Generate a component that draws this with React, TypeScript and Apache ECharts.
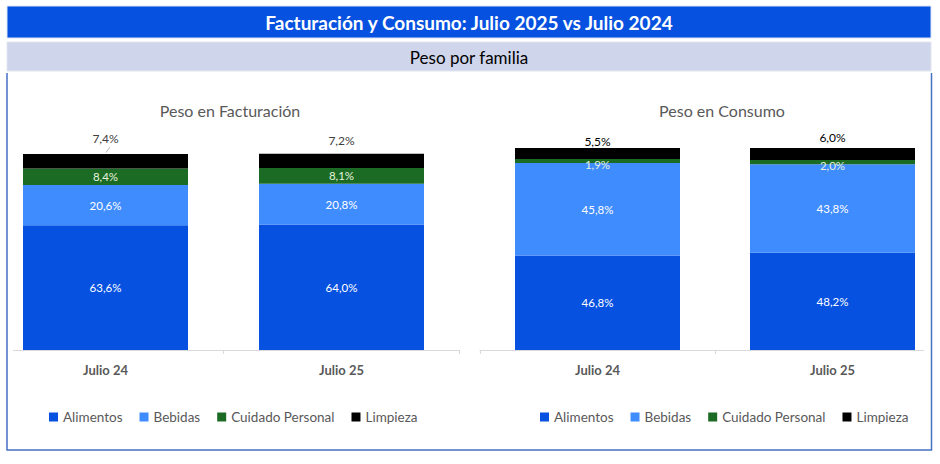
import React, { useEffect, useRef } from "react";
import * as echarts from "echarts";

const categories = ["Julio 24", "Julio 25"];
const familias = ["Alimentos", "Bebidas", "Cuidado Personal", "Limpieza"];

// Peso en Facturación (%)
const factAlimentos = [63.6, 64.0];
const factBebidas = [20.6, 20.8];
const factCuidado = [8.4, 8.1];
const factLimpieza = [7.4, 7.2];

// Peso en Consumo (%)
const consAlimentos = [46.8, 48.2];
const consBebidas = [45.8, 43.8];
const consCuidado = [1.9, 2.0];
const consLimpieza = [5.5, 6.0];

const mainTitle = "Facturación y Consumo: Julio 2025 vs Julio 2024";
const subTitle = "Peso por familia";
const chartTitles = ["Peso en Facturación", "Peso en Consumo"];

const COLORS = ["#0751E0", "#3F8CFF", "#1C6B24", "#000000"];
const FONT = "Lato, 'Noto Sans', sans-serif";
const OX = 20; // the canvas extends 20px left of the page so plot areas can be clipped like the original

const fmt = (v: number) => v.toFixed(1).replace(".", ",") + "%";

export default function App() {
  const ref = useRef<HTMLDivElement>(null);

  useEffect(() => {
    if (!ref.current) return;
    const chart = echarts.init(ref.current, undefined, { renderer: "svg" });

    const charts = [
      {
        data: [factAlimentos, factBebidas, factCuidado, factLimpieza],
        topDist: [10, 7],
        topColor: "#404040",
        cuidadoOffset: [0, 0],
      },
      {
        data: [consAlimentos, consBebidas, consCuidado, consLimpieza],
        topDist: [1, 5],
        topColor: "#000000",
        cuidadoOffset: [0, 3],
      },
    ];

    const series: any[] = [];
    charts.forEach((c, ci) => {
      c.data.forEach((vals, si) => {
        const isTop = si === 3;
        const isCuidado = si === 2;
        series.push({
          type: "bar",
          name: familias[si],
          stack: "s" + ci,
          xAxisIndex: ci,
          yAxisIndex: ci,
          barWidth: 165,
          clip: false,
          itemStyle: { color: COLORS[si] },
          data: vals.map((v, di) => ({
            value: v,
            label: isTop ? { distance: c.topDist[di] } : undefined,
          })),
          label: {
            show: true,
            position: isTop ? "top" : "inside",
            offset: isCuidado ? c.cuidadoOffset : [0, 0],
            formatter: (p: any) => fmt(p.value),
            color: isTop ? c.topColor : isCuidado ? "#E6F2DE" : "#FFFFFF",
            fontFamily: FONT,
            fontSize: isTop ? 12 : 11.5,
          },
        });
      });
    });

    const xAxisBase = {
      type: "category",
      data: categories,
      axisLine: { show: false },
      axisTick: { show: true, length: 4, lineStyle: { color: "#D9D9D9" } },
      axisLabel: {
        color: "#595959",
        fontWeight: "bold",
        fontSize: 13,
        fontFamily: FONT,
        margin: 13,
      },
    };
    const yAxisBase = {
      type: "value",
      min: 0,
      max: 100,
      show: false,
      splitLine: { show: false },
    };

    const legendBase = {
      data: familias,
      selectedMode: false,
      itemWidth: 9,
      itemHeight: 9,
      itemGap: 17,
      icon: "rect",
      top: 405,
      textStyle: { color: "#595959", fontSize: 13.5, fontFamily: FONT },
    };

    const tx = (text: string, x: number, y: number, font: string, fill: string) => ({
      type: "text",
      z: 5,
      style: { text, x: x + OX, y, align: "center", verticalAlign: "middle", fill, font },
    });

    chart.setOption({
      animation: false,
      textStyle: { fontFamily: FONT },
      grid: [
        { left: -12.5 + OX, width: 472, top: 154, height: 196 },
        { left: 480 + OX, width: 470, top: 148, height: 202 },
      ],
      xAxis: [
        { ...xAxisBase, gridIndex: 0 },
        { ...xAxisBase, gridIndex: 1 },
      ],
      yAxis: [
        { ...yAxisBase, gridIndex: 0 },
        { ...yAxisBase, gridIndex: 1 },
      ],
      legend: [
        { ...legendBase, left: 44 + OX },
        { ...legendBase, left: 535 + OX },
      ],
      series,
      graphic: [
        {
          type: "rect",
          shape: { x: 7 + OX, y: 6, width: 924, height: 32 },
          style: { fill: "#0751E0", stroke: "#DCE4F7", lineWidth: 1 },
          z: 1,
        },
        tx(mainTitle, 469, 22, `bold 19px ${FONT}`, "#FFFFFF"),
        {
          type: "rect",
          shape: { x: 7 + OX, y: 42, width: 924, height: 29 },
          style: { fill: "#CFD5EA", stroke: "#E2E6F2", lineWidth: 1 },
          z: 1,
        },
        tx(subTitle, 469, 57, `17px ${FONT}`, "#000000"),
        {
          type: "polyline",
          shape: {
            points: [
              [7 + OX, 73],
              [7 + OX, 450],
              [931.5 + OX, 450],
              [931.5 + OX, 73],
            ],
          },
          style: { stroke: "#4472C4", lineWidth: 1.5, fill: "none" },
          z: 3,
        },
        tx(chartTitles[0], 230, 110, `16px ${FONT}`, "#595959"),
        tx(chartTitles[1], 722, 110, `16px ${FONT}`, "#595959"),
        {
          type: "line",
          shape: { x1: 13 + OX, y1: 350.5, x2: 459.5 + OX, y2: 350.5 },
          style: { stroke: "#D9D9D9", lineWidth: 1 },
        },
        {
          type: "line",
          shape: { x1: 479.5 + OX, y1: 350.5, x2: 924 + OX, y2: 350.5 },
          style: { stroke: "#D9D9D9", lineWidth: 1 },
        },
        {
          type: "line",
          shape: { x1: 106 + OX, y1: 152.5, x2: 110 + OX, y2: 147 },
          style: { stroke: "#A6A6A6", lineWidth: 0.8 },
        },
      ],
    });

    return () => chart.dispose();
  }, []);

  return (
    <div
      style={{
        position: "absolute",
        left: 0,
        top: 0,
        width: 940,
        height: 464,
        overflow: "hidden",
      }}
    >
      <div
        ref={ref}
        style={{ position: "absolute", left: -OX, top: 0, width: 940 + 2 * OX, height: 464 }}
      />
    </div>
  );
}
